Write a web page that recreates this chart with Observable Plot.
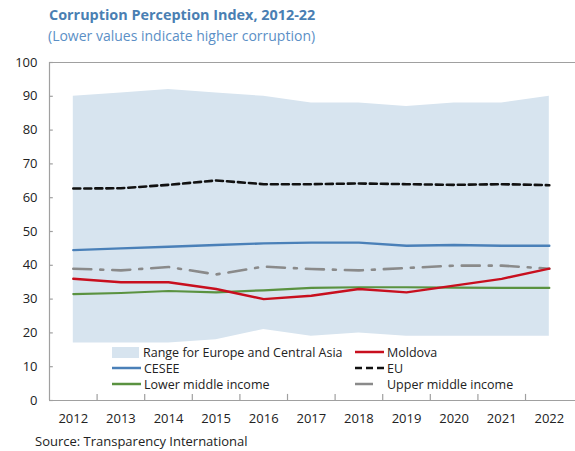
<!DOCTYPE html>
<html><head><meta charset="utf-8">
<script src="https://cdn.jsdelivr.net/npm/d3@7"></script>
<script src="https://cdn.jsdelivr.net/npm/@observablehq/plot@0.6"></script>
<style>
body{margin:0;background:#fff;font-family:"Open Sans",sans-serif;}
#wrap{position:relative;width:575px;height:451px;overflow:hidden;}
#title{position:absolute;left:49px;top:5px;font-size:14.4px;font-weight:bold;color:#4a7fb3;white-space:nowrap;}
#sub{position:absolute;left:48px;top:26px;font-size:14px;color:#5b8fc6;white-space:nowrap;}
#source{position:absolute;left:35px;top:433px;font-size:13px;line-height:16px;color:#222;white-space:nowrap;}
#chart{position:absolute;left:0;top:0;}
.leg{position:absolute;font-size:12.5px;color:#222;white-space:nowrap;display:flex;align-items:center;height:16px;}
.sw{width:27px;margin-right:4px;}
</style></head>
<body><div id="wrap">
<div id="chart"></div>
<div id="title">Corruption Perception Index, 2012-22</div>
<div id="sub">(Lower values indicate higher corruption)</div>
<div id="legend"></div>
<div id="source">Source: Transparency International</div>
</div>
<script>
const years = [2012,2013,2014,2015,2016,2017,2018,2019,2020,2021,2022];
const rangeHigh = [90,91,92,91,90,88,88,87,88,88,90];
const rangeLow  = [17,17,17,18,21,19,20,19,19,19,19];
const eu        = [62.7,62.8,63.8,65.1,64,64,64.2,64,63.8,64,63.7];
const cesee     = [44.5,45,45.5,46,46.5,46.7,46.7,45.8,46,45.8,45.8];
const upperMid  = [39,38.5,39.5,37.3,39.6,38.9,38.5,39.2,39.9,39.9,39];
const moldova   = [36,35,35,33,30,31,33,32,34,36,39];
const lowerMid  = [31.5,31.8,32.4,32,32.6,33.3,33.5,33.5,33.4,33.3,33.3];
const yTicks = [0,10,20,30,40,50,60,70,80,90,100];

const rows = (vals) => years.map((x,i)=>({x, y: vals[i]}));
const band = years.map((x,i)=>({x, lo: rangeLow[i], hi: rangeHigh[i]}));
const bounds = years.slice(0,-1).map(y=>y+0.5);

const colors = {area:"#d7e4ef", cesee:"#4a80b8", moldova:"#c80f1e", lower:"#5a9240", upper:"#8a8a8a", eu:"#111", axis:"#a0a0a0"};

const chart = Plot.plot({
  width: 575, height: 451,
  marginTop: 62, marginBottom: 51, marginLeft: 49, marginRight: 0,
  style: {fontFamily: "'Open Sans', sans-serif", fontSize: "12.5px", color: "#222", background: "transparent"},
  x: {domain: [2011.5, 2022.55], axis: null},
  y: {domain: [0, 100], axis: null},
  marks: [
    Plot.areaY(band, {x: "x", y1: "lo", y2: "hi", fill: colors.area, curve: "linear"}),
    Plot.lineY(rows(eu), {x: "x", y: "y", stroke: colors.eu, strokeWidth: 2.6, strokeDasharray: "7,4"}),
    Plot.lineY(rows(cesee), {x: "x", y: "y", stroke: colors.cesee, strokeWidth: 2.4}),
    Plot.lineY(rows(upperMid), {x: "x", y: "y", stroke: colors.upper, strokeWidth: 2.6, strokeDasharray: "18,9,3,9"}),
    Plot.lineY(rows(lowerMid), {x: "x", y: "y", stroke: colors.lower, strokeWidth: 2.2}),
    Plot.lineY(rows(moldova), {x: "x", y: "y", stroke: colors.moldova, strokeWidth: 2.4}),
    Plot.ruleY([100], {stroke: colors.axis, strokeWidth: 1.2}),
    Plot.ruleY([0], {stroke: colors.axis, strokeWidth: 1.2}),
    Plot.ruleX([2011.5], {y1: 0, y2: 100, stroke: colors.axis, strokeWidth: 1.2}),
    Plot.ruleX(bounds, {y1: 0, y2: 1.8, stroke: colors.axis, strokeWidth: 1.2}),
    Plot.ruleY(yTicks, {x1: 2011.5, x2: 2011.58, stroke: colors.axis, strokeWidth: 1.2}),
    Plot.axisY(yTicks, {tickSize: 0, tickPadding: 12, label: null, fontSize: 13}),
    Plot.axisX(years, {tickSize: 0, tickPadding: 13, label: null, tickFormat: d => String(d), fontSize: 13})
  ]
});
document.getElementById("chart").appendChild(chart);

const legendItems = [
  {label: "Range for Europe and Central Asia", kind: "area", color: colors.area, left: 112, top: 344},
  {label: "Moldova", kind: "line", color: colors.moldova, dash: null, left: 355, top: 344},
  {label: "CESEE", kind: "line", color: colors.cesee, dash: null, left: 112, top: 360},
  {label: "EU", kind: "line", color: colors.eu, dash: "7,4", left: 355, top: 360},
  {label: "Lower middle income", kind: "line", color: colors.lower, dash: null, left: 112, top: 376},
  {label: "Upper middle income", kind: "line", color: colors.upper, dash: "18,12", left: 355, top: 376}
];
const leg = document.getElementById("legend");
for (const it of legendItems) {
  const d = document.createElement("div");
  d.className = "leg";
  d.style.left = it.left + "px"; d.style.top = it.top + "px";
  let sw;
  if (it.kind === "area") {
    sw = `<svg class="sw" width="27" height="12"><rect x="0" y="1" width="27" height="11" fill="${it.color}"/></svg>`;
  } else {
    sw = `<svg class="sw" width="29" height="12" style="width:29px;margin-right:3px"><line x1="0" y1="6" x2="29" y2="6" stroke="${it.color}" stroke-width="2.5" ${it.dash ? `stroke-dasharray="${it.dash}"` : ""}/></svg>`;
  }
  d.innerHTML = sw + `<span>${it.label}</span>`;
  leg.appendChild(d);
}
</script>
</body></html>
